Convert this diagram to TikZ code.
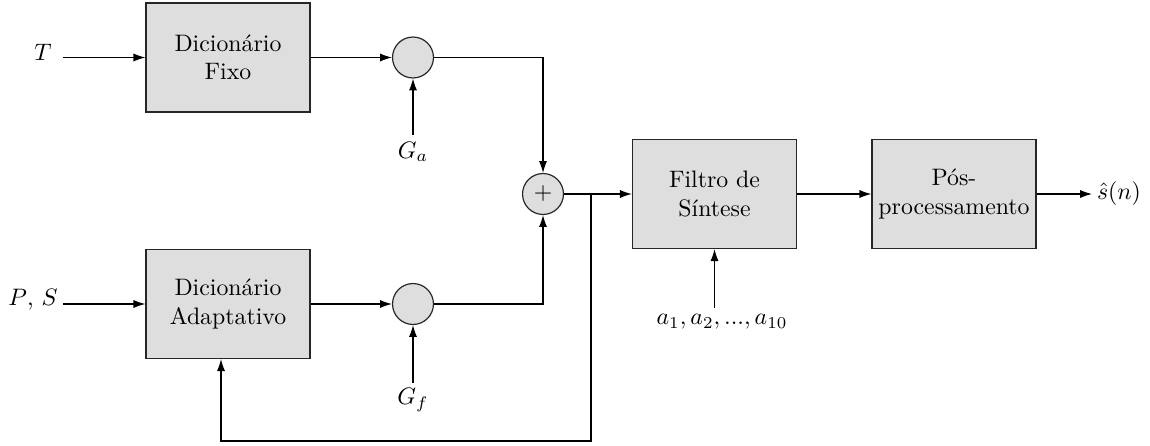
\documentclass[tikz,border=0pt]{standalone}
\usetikzlibrary{arrows.meta}
\definecolor{boxgray}{RGB}{222,222,222}
\begin{document}
\begin{tikzpicture}[x=0.42pt,y=-0.42pt,
 blk/.style={draw=black!85, fill=boxgray, minimum width=68.9pt, minimum height=45.8pt, align=center, inner sep=0pt, line width=0.5pt},
 sumc/.style={circle, draw=black!85, fill=boxgray, minimum size=17.2pt, inner sep=0pt, line width=0.5pt},
 conn/.style={-{Latex[length=5pt,width=3.4pt]}, line width=0.45pt},
 wire/.style={line width=0.45pt}]
\useasboundingbox (0,0) rectangle (1150,445);
\node[blk] (fixo) at (228,57.5) {Dicionário\\Fixo};
\node[blk] (adap) at (228,304) {Dicionário\\Adaptativo};
\node[sumc] (ga) at (413,57.5) {};
\node[sumc] (gf) at (413,304) {};
\node[sumc] (sum) at (543,194) {$+$};
\node[blk] (filt) at (714.5,194) {Filtro de\\Síntese};
\node[blk] (pos) at (954,194) {Pós-\\processamento};
\node (T) at (43,52) {$T$};
\node (PS) at (33,300) {$P$, $S$};
\node (Ga) at (413,152) {$G_a$};
\node (Gf) at (413,400) {$G_f$};
\node (alist) at (722,322) {$a_1, a_2, ..., a_{10}$};
\node (out) at (1119,194) {$\hat{s}(n)$};
\coordinate (tin) at (63,57.5);
\coordinate (psin) at (63,304);
\coordinate (gat) at (413,135);
\coordinate (gft) at (413,383);
\coordinate (at) at (714.5,308);
\coordinate (oend) at (1092,194);
\coordinate (br) at (591,194);
\coordinate (fb1) at (591,441);
\coordinate (fb2) at (221,441);
\draw[conn] (tin) -- (fixo.west);
\draw[conn] (psin) -- (adap.west);
\draw[conn] (fixo.east) -- (ga.west);
\draw[conn] (adap.east) -- (gf.west);
\draw[conn] (gat) -- (ga.south);
\draw[conn] (gft) -- (gf.south);
\draw[conn] (ga.east) -| (sum.north);
\draw[conn] (gf.east) -| (sum.south);
\draw[conn] (sum.east) -- (filt.west);
\draw[conn] (filt.east) -- (pos.west);
\draw[conn] (pos.east) -- (oend);
\draw[conn] (at) -- (filt.south);
\draw[conn] (br) -- (fb1) -- (fb2) -- (fb2 |- adap.south);
\end{tikzpicture}
\end{document}
